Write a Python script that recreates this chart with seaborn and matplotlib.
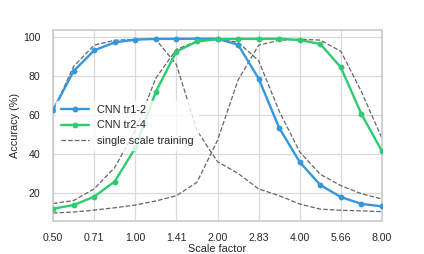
import pandas as pd
import matplotlib
matplotlib.use("Agg")
import matplotlib.pyplot as plt
import seaborn as sns

# scale factors (quarter-octave steps from 0.5 to 8)
scale_factors = [0.5, 0.5946, 0.7071, 0.8409, 1.0, 1.1892, 1.4142, 1.6818, 2.0,
                 2.3784, 2.8284, 3.3636, 4.0, 4.7568, 5.6569, 6.7272, 8.0]
tick_values = [0.5, 0.7071, 1.0, 1.4142, 2.0, 2.8284, 4.0, 5.6569, 8.0]
tick_labels = ["0.50", "0.71", "1.00", "1.41", "2.00", "2.83", "4.00", "5.66", "8.00"]

cnn_tr1_2 = [62.5, 82.6, 93.3, 97.4, 98.8, 99.2, 99.2, 99.3, 99.3,
             96.2, 78.8, 53.4, 35.8, 24.0, 17.8, 14.3, 13.0]
cnn_tr2_4 = [11.8, 13.7, 18.0, 25.8, 43.0, 72.0, 92.7, 97.9, 99.0,
             99.2, 99.2, 99.3, 98.6, 96.6, 84.5, 60.5, 41.3]

# single scale training baselines
single_small = [62.0, 85.0, 96.0, 98.5, 99.0, 99.0, 86.0, 52.0, 36.0,
                30.0, 22.0, 18.5, 14.2, 11.6, 11.0, 10.7, 10.3]
single_mid = [14.5, 16.0, 22.0, 33.0, 52.0, 79.0, 93.8, 98.0, 99.0,
              97.5, 88.0, 62.0, 41.0, 29.5, 23.7, 19.5, 16.8]
single_large = [9.6, 10.1, 11.1, 12.3, 13.7, 15.8, 18.5, 25.4, 47.0,
                78.0, 96.0, 98.5, 99.0, 98.6, 92.8, 72.0, 48.0]

sns.set_theme(style="whitegrid")
plt.rcParams["font.family"] = ["Liberation Sans", "DejaVu Sans"]

fig, ax = plt.subplots(figsize=(4.24, 2.54), dpi=100)
fig.subplots_adjust(left=0.125, right=0.901, top=0.882, bottom=0.13)

df = pd.DataFrame({"scale": scale_factors, "tr12": cnn_tr1_2, "tr24": cnn_tr2_4,
                   "s1": single_small, "s2": single_mid, "s3": single_large})

sns.lineplot(data=df, x="scale", y="tr12", ax=ax, color="#3498db", lw=1.7,
             marker="o", markersize=4.2, markeredgewidth=0, label="CNN tr1-2", zorder=3)
sns.lineplot(data=df, x="scale", y="tr24", ax=ax, color="#2ecc71", lw=1.7,
             marker="o", markersize=4.2, markeredgewidth=0, label="CNN tr2-4", zorder=3)
for i, col in enumerate(["s1", "s2", "s3"]):
    sns.lineplot(data=df, x="scale", y=col, ax=ax, color="0.4", lw=0.9,
                 linestyle="--", label="single scale training" if i == 0 else None,
                 zorder=2)

ax.set_xscale("log", base=2)
ax.set_xlim(0.5, 8.0)
ax.set_ylim(5.5, 103.8)
ax.set_xticks(tick_values)
ax.set_xticklabels(tick_labels)
ax.minorticks_off()
ax.set_yticks([20, 40, 60, 80, 100])
ax.grid(color="0.85", lw=0.9)
ax.tick_params(labelsize=7.6, pad=3)
ax.set_xlabel("Scale factor", fontsize=7.8, labelpad=0.5)
ax.set_ylabel("Accuracy (%)", fontsize=7.8, labelpad=2)

leg = ax.legend(loc="center left", fontsize=7.8, frameon=True, framealpha=0.8,
                edgecolor="white", handlelength=2.6, borderaxespad=0.3)

plt.savefig("out.png", dpi=100)
